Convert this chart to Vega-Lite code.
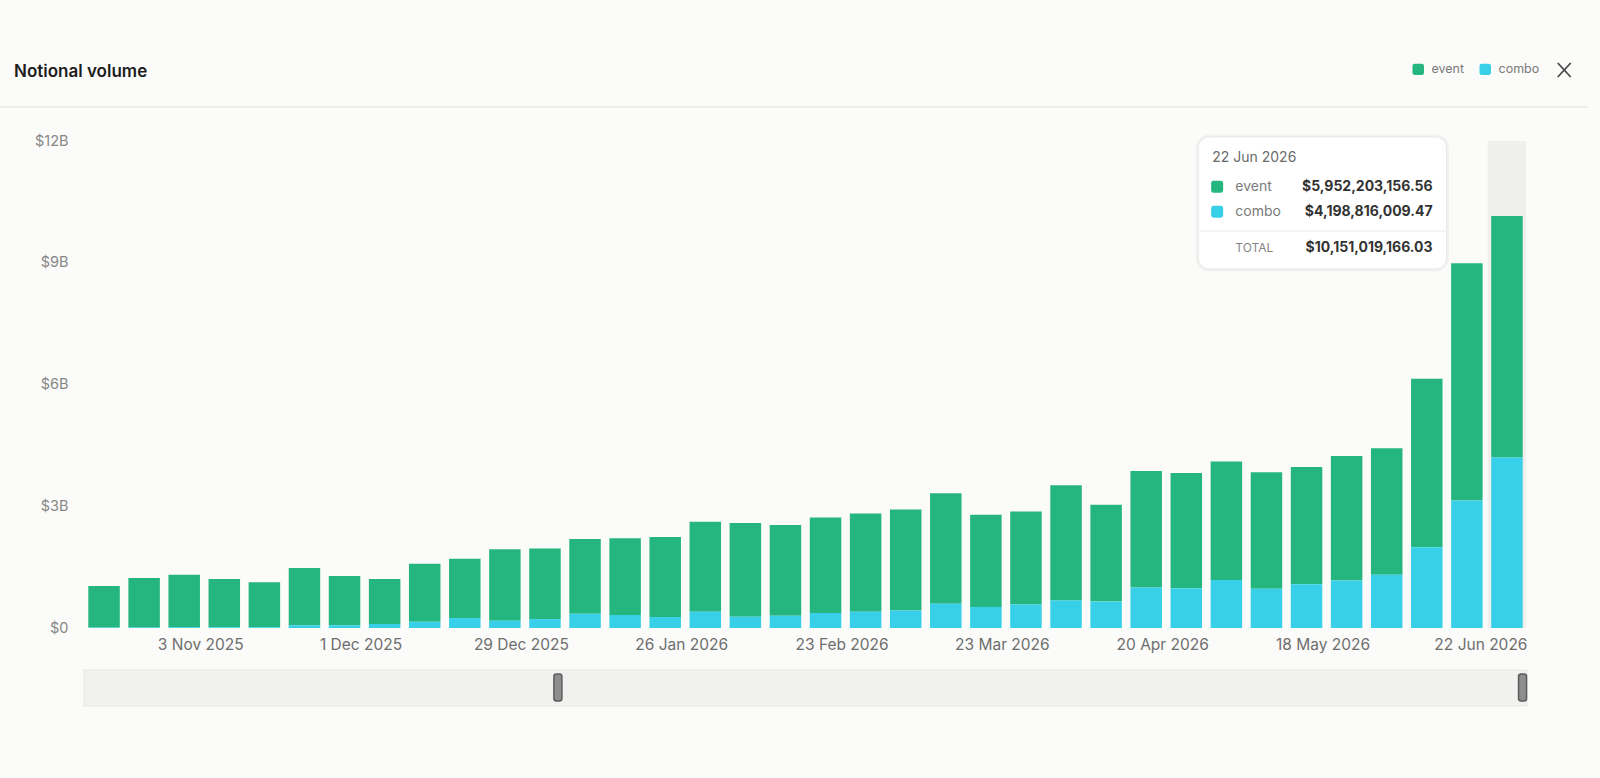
{
  "$schema": "https://vega.github.io/schema/vega-lite/v6.json",
  "width": 1453,
  "height": 487,
  "autosize": {"type": "none"},
  "padding": {"left": 79, "top": 141, "right": 68, "bottom": 150},
  "background": "#fbfbf9",
  "config": {"font": "Inter", "view": {"stroke": null}},
  "title": {"text": "Notional volume", "anchor": "start", "frame": "group", "dx": -65, "offset": -26.5, "baseline": "middle", "fontSize": 17, "fontWeight": 600, "color": "#1d1d1d", "font": "Inter"},
  "data": {
    "values": [
      {"week": "2025-10-20T00:00:00", "event": 1020000000, "combo": 15000000},
      {"week": "2025-10-27T00:00:00", "event": 1220000000, "combo": 15000000},
      {"week": "2025-11-03T00:00:00", "event": 1290000000, "combo": 20000000},
      {"week": "2025-11-10T00:00:00", "event": 1190000000, "combo": 20000000},
      {"week": "2025-11-17T00:00:00", "event": 1110000000, "combo": 20000000},
      {"week": "2025-11-24T00:00:00", "event": 1410000000, "combo": 70000000},
      {"week": "2025-12-01T00:00:00", "event": 1210000000, "combo": 70000000},
      {"week": "2025-12-08T00:00:00", "event": 1110000000, "combo": 100000000},
      {"week": "2025-12-15T00:00:00", "event": 1430000000, "combo": 155000000},
      {"week": "2025-12-22T00:00:00", "event": 1460000000, "combo": 245000000},
      {"week": "2025-12-29T00:00:00", "event": 1760000000, "combo": 180000000},
      {"week": "2026-01-05T00:00:00", "event": 1740000000, "combo": 220000000},
      {"week": "2026-01-12T00:00:00", "event": 1840000000, "combo": 350000000},
      {"week": "2026-01-19T00:00:00", "event": 1890000000, "combo": 320000000},
      {"week": "2026-01-26T00:00:00", "event": 1970000000, "combo": 270000000},
      {"week": "2026-02-02T00:00:00", "event": 2220000000, "combo": 400000000},
      {"week": "2026-02-09T00:00:00", "event": 2310000000, "combo": 280000000},
      {"week": "2026-02-16T00:00:00", "event": 2240000000, "combo": 300000000},
      {"week": "2026-02-23T00:00:00", "event": 2350000000, "combo": 370000000},
      {"week": "2026-03-02T00:00:00", "event": 2420000000, "combo": 400000000},
      {"week": "2026-03-09T00:00:00", "event": 2490000000, "combo": 430000000},
      {"week": "2026-03-16T00:00:00", "event": 2720000000, "combo": 600000000},
      {"week": "2026-03-23T00:00:00", "event": 2270000000, "combo": 520000000},
      {"week": "2026-03-30T00:00:00", "event": 2290000000, "combo": 580000000},
      {"week": "2026-04-06T00:00:00", "event": 2840000000, "combo": 680000000},
      {"week": "2026-04-13T00:00:00", "event": 2390000000, "combo": 650000000},
      {"week": "2026-04-20T00:00:00", "event": 2870000000, "combo": 1000000000},
      {"week": "2026-04-27T00:00:00", "event": 2840000000, "combo": 980000000},
      {"week": "2026-05-04T00:00:00", "event": 2920000000, "combo": 1180000000},
      {"week": "2026-05-11T00:00:00", "event": 2870000000, "combo": 970000000},
      {"week": "2026-05-18T00:00:00", "event": 2890000000, "combo": 1080000000},
      {"week": "2026-05-25T00:00:00", "event": 3070000000, "combo": 1170000000},
      {"week": "2026-06-01T00:00:00", "event": 3120000000, "combo": 1310000000},
      {"week": "2026-06-08T00:00:00", "event": 4150000000, "combo": 1990000000},
      {"week": "2026-06-15T00:00:00", "event": 5850000000, "combo": 3140000000},
      {"week": "2026-06-22T00:00:00", "event": 5952203156.56, "combo": 4198816009.47}
    ]
  },
  "layer": [
    {
      "data": {"values": [{}]},
      "mark": {"type": "bar", "width": 38.5, "color": "#efefed"},
      "encoding": {
        "x": {"datum": {"year": 2026, "month": 6, "date": 22}, "type": "temporal"},
        "y": {"datum": 12000000000, "type": "quantitative"},
        "y2": {"datum": 0}
      }
    },
    {
      "transform": [{"fold": ["event", "combo"], "as": ["series", "volume"]}],
      "mark": {"type": "bar", "width": 31.5},
      "encoding": {
        "x": {
          "field": "week", "type": "temporal",
          "scale": {"domain": [{"year": 2025, "month": 10, "date": 16, "hours": 12}, {"year": 2026, "month": 6, "date": 25, "hours": 12}]},
          "axis": {
            "title": null,
            "values": [
              {"year": 2025, "month": 11, "date": 3}, {"year": 2025, "month": 12, "date": 1}, {"year": 2025, "month": 12, "date": 29},
              {"year": 2026, "month": 1, "date": 26}, {"year": 2026, "month": 2, "date": 23}, {"year": 2026, "month": 3, "date": 23},
              {"year": 2026, "month": 4, "date": 20}, {"year": 2026, "month": 5, "date": 18}, {"year": 2026, "month": 6, "date": 22}
            ],
            "format": "%-d %b %Y",
            "labelOffset": {"condition": {"test": "datum.value > time(datetime(2026,5,1))", "value": 20}, "value": 16},
            "labelAlign": {"condition": {"test": "datum.value > time(datetime(2026,5,1))", "value": "right"}, "value": "center"},
            "labelFontSize": 15.5, "labelColor": "#6e6e6e", "labelPadding": 9,
            "ticks": false, "domain": false, "grid": false, "labelOverlap": false, "labelBound": false, "labelFlush": false
          }
        },
        "y": {
          "field": "volume", "type": "quantitative", "stack": "zero",
          "scale": {"domain": [0, 12000000000], "nice": false},
          "axis": {
            "title": null,
            "values": [0, 3000000000, 6000000000, 9000000000, 12000000000],
            "labelExpr": "datum.value == 0 ? '$0' : '$' + format(datum.value / 1e9, 'd') + 'B'",
            "labelFontSize": 14.5, "labelColor": "#878787", "labelPadding": 11,
            "ticks": false, "domain": false,
            "gridColor": "#e2e2e0", "gridDash": [4, 4], "gridWidth": 1,
            "gridOpacity": {"condition": {"test": "datum.value == 0", "value": 0}, "value": 1}
          }
        },
        "order": {"field": "series", "type": "nominal", "sort": "ascending"},
        "color": {
          "field": "series", "type": "nominal",
          "scale": {"domain": ["event", "combo"], "range": ["#25b67f", "#38d0e8"]},
          "legend": {
            "title": null, "orient": "none", "legendX": 1333, "legendY": -78, "direction": "horizontal",
            "symbolType": "M-0.6,-1H0.6Q1,-1,1,-0.6V0.6Q1,1,0.6,1H-0.6Q-1,1,-1,0.6V-0.6Q-1,-1,-0.6,-1Z",
            "symbolSize": 132, "symbolStrokeWidth": 0, "labelFontSize": 12.5, "labelColor": "#7a7a7a",
            "labelOffset": 7, "columnPadding": 14
          }
        }
      }
    },
    {
      "data": {"values": [{}]},
      "mark": {"type": "rule", "color": "#e9e9e7", "strokeWidth": 1.5},
      "encoding": {
        "x": {"datum": {"year": 2025, "month": 10, "date": 1, "hours": 22, "minutes": 20}, "type": "temporal"},
        "x2": {"datum": {"year": 2026, "month": 7, "date": 6, "hours": 1, "minutes": 55}},
        "y": {"datum": 12838000000, "type": "quantitative"}
      }
    },
    {
      "data": {"values": [{}]},
      "mark": {"type": "rule", "color": "#4a4a4a", "strokeWidth": 1.8},
      "encoding": {
        "x": {"datum": {"year": 2026, "month": 6, "date": 30, "hours": 21, "minutes": 0}, "type": "temporal"},
        "x2": {"datum": {"year": 2026, "month": 7, "date": 3, "hours": 3, "minutes": 10}},
        "y": {"datum": 13922000000, "type": "quantitative"},
        "y2": {"datum": 13577000000}
      }
    },
    {
      "data": {"values": [{}]},
      "mark": {"type": "rule", "color": "#4a4a4a", "strokeWidth": 1.8},
      "encoding": {
        "x": {"datum": {"year": 2026, "month": 6, "date": 30, "hours": 21, "minutes": 0}, "type": "temporal"},
        "x2": {"datum": {"year": 2026, "month": 7, "date": 3, "hours": 3, "minutes": 10}},
        "y": {"datum": 13577000000, "type": "quantitative"},
        "y2": {"datum": 13922000000}
      }
    },
    {
      "data": {"values": [{}]},
      "mark": {"type": "rect", "fill": "#f1f1ef", "stroke": "#e7e7e5", "strokeWidth": 1},
      "encoding": {
        "x": {"datum": {"year": 2025, "month": 10, "date": 16, "hours": 12}, "type": "temporal"},
        "x2": {"datum": {"year": 2026, "month": 6, "date": 25, "hours": 12}},
        "y": {"datum": -1035000000, "type": "quantitative"},
        "y2": {"datum": -1922000000}
      }
    },
    {
      "data": {"values": [{}]},
      "mark": {"type": "bar", "width": 8, "cornerRadius": 2.5, "fill": "#8e8e8e", "stroke": "#5c5c5c", "strokeWidth": 1.5},
      "encoding": {
        "x": {"datum": {"year": 2026, "month": 1, "date": 7, "hours": 6, "minutes": 15}, "type": "temporal"},
        "y": {"datum": -1133000000, "type": "quantitative"},
        "y2": {"datum": -1799000000}
      }
    },
    {
      "data": {"values": [{}]},
      "mark": {"type": "bar", "width": 8, "cornerRadius": 2.5, "fill": "#8e8e8e", "stroke": "#5c5c5c", "strokeWidth": 1.5},
      "encoding": {
        "x": {"datum": {"year": 2026, "month": 6, "date": 24, "hours": 17, "minutes": 20}, "type": "temporal"},
        "y": {"datum": -1133000000, "type": "quantitative"},
        "y2": {"datum": -1799000000}
      }
    },
    {
      "data": {"values": [{}]},
      "mark": {"type": "rect", "fill": "#ffffff", "stroke": "#000000", "strokeOpacity": 0.035, "strokeWidth": 5, "cornerRadius": 11},
      "encoding": {
        "x": {"datum": {"year": 2026, "month": 4, "date": 29, "hours": 2, "minutes": 10}, "type": "temporal"},
        "x2": {"datum": {"year": 2026, "month": 6, "date": 11, "hours": 10, "minutes": 50}},
        "y": {"datum": 12099000000, "type": "quantitative"},
        "y2": {"datum": 8846000000}
      }
    },
    {
      "data": {"values": [{}]},
      "mark": {"type": "rect", "fill": "#ffffff", "stroke": "#e8e8e8", "strokeWidth": 1, "cornerRadius": 11},
      "encoding": {
        "x": {"datum": {"year": 2026, "month": 4, "date": 29, "hours": 2, "minutes": 10}, "type": "temporal"},
        "x2": {"datum": {"year": 2026, "month": 6, "date": 11, "hours": 10, "minutes": 50}},
        "y": {"datum": 12099000000, "type": "quantitative"},
        "y2": {"datum": 8846000000}
      }
    },
    {
      "data": {"values": [{}]},
      "mark": {"type": "rule", "color": "#ececec", "strokeWidth": 1},
      "encoding": {
        "x": {"datum": {"year": 2026, "month": 4, "date": 29, "hours": 2, "minutes": 10}, "type": "temporal"},
        "x2": {"datum": {"year": 2026, "month": 6, "date": 11, "hours": 10, "minutes": 50}},
        "y": {"datum": 9782000000, "type": "quantitative"}
      }
    },
    {
      "transform": [
        {"fold": ["event", "combo"], "as": ["series", "volume"]},
        {"filter": {"field": "week", "equal": {"year": 2026, "month": 6, "date": 22}}},
        {"filter": "datum.series == 'event'"}
      ],
      "mark": {"type": "text", "align": "left", "baseline": "middle", "dx": 14, "fontSize": 14, "color": "#6b6b6b"},
      "encoding": {
        "x": {"datum": {"year": 2026, "month": 4, "date": 29, "hours": 2, "minutes": 10}, "type": "temporal"},
        "y": {"datum": 11574000000, "type": "quantitative"},
        "text": {"field": "week", "type": "temporal", "format": "%-d %b %Y"}
      }
    },
    {
      "transform": [
        {"fold": ["event", "combo"], "as": ["series", "volume"]},
        {"filter": {"field": "week", "equal": {"year": 2026, "month": 6, "date": 22}}},
        {"filter": "datum.series == 'event'"}
      ],
      "encoding": {"y": {"datum": 10870000000, "type": "quantitative"}},
      "layer": [
        {
          "mark": {"type": "point", "shape": "M-0.6,-1H0.6Q1,-1,1,-0.6V0.6Q1,1,0.6,1H-0.6Q-1,1,-1,0.6V-0.6Q-1,-1,-0.6,-1Z", "filled": true, "size": 144, "opacity": 1, "color": "#25b67f"},
          "encoding": {"x": {"datum": {"year": 2026, "month": 5, "date": 2, "hours": 9, "minutes": 20}, "type": "temporal"}}
        },
        {
          "mark": {"type": "text", "align": "left", "baseline": "middle", "dx": 37, "fontSize": 14, "color": "#7a7a7a"},
          "encoding": {"x": {"datum": {"year": 2026, "month": 4, "date": 29, "hours": 2, "minutes": 10}, "type": "temporal"}, "text": {"field": "series"}}
        },
        {
          "mark": {"type": "text", "align": "right", "baseline": "middle", "dx": -14, "fontSize": 14, "fontWeight": "bold", "color": "#333333"},
          "encoding": {"x": {"datum": {"year": 2026, "month": 6, "date": 11, "hours": 10, "minutes": 50}, "type": "temporal"}, "text": {"field": "volume", "type": "quantitative", "format": "$,.2f"}}
        }
      ]
    },
    {
      "transform": [
        {"fold": ["event", "combo"], "as": ["series", "volume"]},
        {"filter": {"field": "week", "equal": {"year": 2026, "month": 6, "date": 22}}},
        {"filter": "datum.series == 'combo'"}
      ],
      "encoding": {"y": {"datum": 10258000000, "type": "quantitative"}},
      "layer": [
        {
          "mark": {"type": "point", "shape": "M-0.6,-1H0.6Q1,-1,1,-0.6V0.6Q1,1,0.6,1H-0.6Q-1,1,-1,0.6V-0.6Q-1,-1,-0.6,-1Z", "filled": true, "size": 144, "opacity": 1, "color": "#38d0e8"},
          "encoding": {"x": {"datum": {"year": 2026, "month": 5, "date": 2, "hours": 9, "minutes": 20}, "type": "temporal"}}
        },
        {
          "mark": {"type": "text", "align": "left", "baseline": "middle", "dx": 37, "fontSize": 14, "color": "#7a7a7a"},
          "encoding": {"x": {"datum": {"year": 2026, "month": 4, "date": 29, "hours": 2, "minutes": 10}, "type": "temporal"}, "text": {"field": "series"}}
        },
        {
          "mark": {"type": "text", "align": "right", "baseline": "middle", "dx": -14, "fontSize": 14, "fontWeight": "bold", "color": "#333333"},
          "encoding": {"x": {"datum": {"year": 2026, "month": 6, "date": 11, "hours": 10, "minutes": 50}, "type": "temporal"}, "text": {"field": "volume", "type": "quantitative", "format": "$,.2f"}}
        }
      ]
    },
    {
      "transform": [
        {"fold": ["event", "combo"], "as": ["series", "volume"]},
        {"filter": {"field": "week", "equal": {"year": 2026, "month": 6, "date": 22}}},
        {"aggregate": [{"op": "sum", "field": "volume", "as": "total"}]}
      ],
      "encoding": {"y": {"datum": 9356000000, "type": "quantitative"}},
      "layer": [
        {
          "mark": {"type": "text", "align": "left", "baseline": "middle", "dx": 37, "fontSize": 12, "letterSpacing": 1, "color": "#858585", "text": "TOTAL"},
          "encoding": {"x": {"datum": {"year": 2026, "month": 4, "date": 29, "hours": 2, "minutes": 10}, "type": "temporal"}}
        },
        {
          "mark": {"type": "text", "align": "right", "baseline": "middle", "dx": -14, "fontSize": 14, "fontWeight": "bold", "color": "#333333"},
          "encoding": {"x": {"datum": {"year": 2026, "month": 6, "date": 11, "hours": 10, "minutes": 50}, "type": "temporal"}, "text": {"field": "total", "type": "quantitative", "format": "$,.2f"}}
        }
      ]
    }
  ]
}
